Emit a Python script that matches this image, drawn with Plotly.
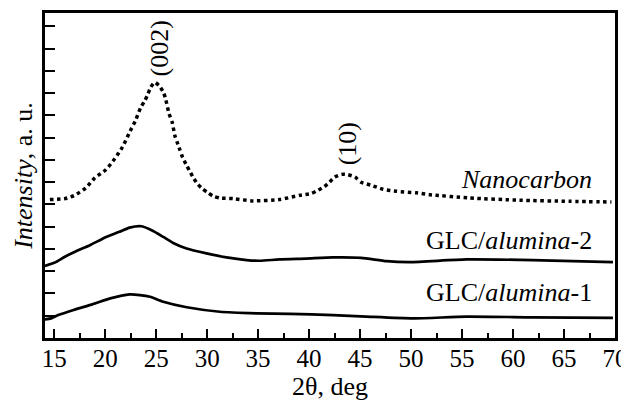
import plotly.graph_objects as go

# Nanocarbon (dotted)
nano_x = [14.58, 16.05, 17.0, 18.1, 19.0, 20.07, 20.95, 21.7, 22.35, 22.98, 23.5, 23.9, 24.2, 24.48,
          24.87, 25.36, 25.75, 25.95, 26.27, 26.57, 26.83, 27.06, 27.32, 27.58, 27.98, 28.37, 28.7,
          29.1, 29.55, 30.1, 30.6, 31.25, 32.55, 34.5, 37.1, 39.1, 40.2, 40.9, 41.5, 42.0, 42.5,
          43.2, 43.8, 44.5, 45.1, 46.1, 47.25, 48.57, 50.5, 51.8, 55.75, 60.66, 65.56, 69.65]
nano_y = [6.22, 6.26, 6.41, 6.74, 7.2, 7.56, 8.06, 8.58, 9.2, 9.78, 10.37, 10.67, 10.97, 11.27,
          11.49, 11.3, 11.0, 10.7, 10.07, 9.7, 9.1, 8.8, 8.46, 8.13, 7.76, 7.43, 7.16,
          6.9, 6.7, 6.52, 6.37, 6.29, 6.26, 6.16, 6.22, 6.41, 6.49, 6.64, 6.8, 7.0, 7.23,
          7.35, 7.34, 7.23, 7.0, 6.86, 6.68, 6.59, 6.52, 6.44, 6.29, 6.19, 6.14, 6.11]

# GLC/alumina-2
a2_x = [14.09, 15.07, 16.05, 17.2, 18.5, 20.1, 21.4, 22.4, 23.57, 24.7, 25.7, 26.67, 27.98,
        29.94, 31.9, 33.86, 35.17, 37.1, 39.7, 42.35, 45.1, 47.6, 49.9, 55.4, 61.9, 69.8]
a2_y = [3.24, 3.39, 3.65, 3.91, 4.17, 4.54, 4.77, 4.96, 5.02, 4.81, 4.54, 4.27, 4.02,
        3.8, 3.62, 3.5, 3.47, 3.53, 3.57, 3.62, 3.6, 3.45, 3.41, 3.53, 3.5, 3.41]

# GLC/alumina-1
a1_x = [14.09, 14.7, 15.4, 16.9, 18.8, 20.5, 22.4, 23.4, 24.4, 25.7, 28.0, 31.25, 34.8,
        38.1, 42.35, 45.6, 50.2, 55.4, 61.9, 69.8]
a1_y = [0.84, 0.88, 1.03, 1.26, 1.52, 1.78, 1.96, 1.93, 1.85, 1.63, 1.38, 1.18, 1.11,
        1.08, 1.03, 0.96, 0.88, 0.96, 0.93, 0.9]

x_ticks = [15, 20, 25, 30, 35, 40, 45, 50, 55, 60, 65, 70]

FONT = "Liberation Serif, Times New Roman, serif"

fig = go.Figure()
fig.add_trace(go.Scatter(x=nano_x, y=nano_y, mode="lines",
                         line=dict(color="black", width=3.5, dash="dot", shape="spline", smoothing=0.6)))
fig.add_trace(go.Scatter(x=a2_x, y=a2_y, mode="lines",
                         line=dict(color="black", width=2.7, shape="spline", smoothing=0.6)))
fig.add_trace(go.Scatter(x=a1_x, y=a1_y, mode="lines",
                         line=dict(color="black", width=2.7, shape="spline", smoothing=0.6)))

ann_font = dict(family=FONT, size=26, color="black")
fig.add_annotation(x=25.36, y=13.0, text="(002)", textangle=-90, showarrow=False,
                   xanchor="center", yanchor="middle", font=ann_font)
fig.add_annotation(x=43.8, y=8.74, text="(10)", textangle=-90, showarrow=False,
                   xanchor="center", yanchor="middle", font=ann_font)
fig.add_annotation(x=67.9, y=7.11, text="<i>Nanocarbon</i>", showarrow=False,
                   xanchor="right", yanchor="middle", font=ann_font)
fig.add_annotation(x=67.9, y=4.36, text="GLC/<i>alumina</i>-2", showarrow=False,
                   xanchor="right", yanchor="middle", font=ann_font)
fig.add_annotation(x=67.9, y=2.06, text="GLC/<i>alumina</i>-1", showarrow=False,
                   xanchor="right", yanchor="middle", font=ann_font)

# axis titles
fig.add_annotation(xref="paper", yref="paper", x=-0.038, y=0.5, text="<i>Intensity</i>, a. u.",
                   textangle=-90, showarrow=False, xanchor="center", yanchor="middle", font=ann_font)
fig.add_annotation(xref="paper", yref="paper", x=0.5, y=-0.2, text="2θ, deg",
                   showarrow=False, xanchor="center", yanchor="bottom", font=ann_font)

fig.update_xaxes(range=[14.1, 70], tickmode="array", tickvals=x_ticks,
                 ticktext=[str(v) for v in x_ticks],
                 ticks="inside", ticklen=9, tickwidth=2, tickcolor="black",
                 minor=dict(dtick=2.5, tick0=15, ticks="inside", ticklen=5, tickwidth=2, tickcolor="black"),
                 showline=True, linewidth=2.5, linecolor="black", mirror=True,
                 showgrid=False, zeroline=False, automargin=False, ticklabelstandoff=-4,
                 tickfont=dict(family=FONT, size=25, color="black"))
fig.update_yaxes(range=[0, 14.6], tick0=0, dtick=1, showticklabels=False,
                 ticks="inside", ticklen=10, tickwidth=2, tickcolor="black",
                 showline=True, linewidth=2.5, linecolor="black", mirror=True,
                 showgrid=False, zeroline=False, automargin=False)

# the page body adds an 8px offset, so the figure is sized/margined to compensate
fig.update_layout(width=621, height=395, margin=dict(l=37, r=14, t=5, b=65, autoexpand=False),
                  paper_bgcolor="white", plot_bgcolor="white", showlegend=False)

fig.write_html("out.html")
